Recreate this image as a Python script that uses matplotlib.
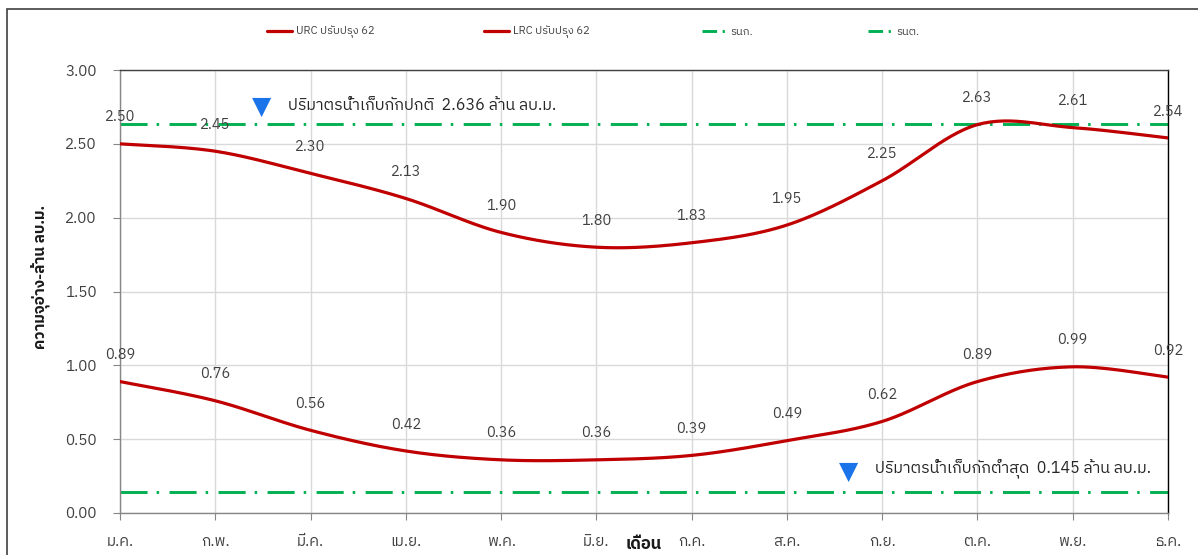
import numpy as np
import matplotlib
matplotlib.use("Agg")
import matplotlib.pyplot as plt
from matplotlib import font_manager
from matplotlib.ft2font import FT2Font
from matplotlib.patches import Rectangle
from matplotlib.lines import Line2D

# ---------------- data ----------------
months = ["ม.ค.", "ก.พ.", "มี.ค.", "เม.ย.", "พ.ค.", "มิ.ย.",
          "ก.ค.", "ส.ค.", "ก.ย.", "ต.ค.", "พ.ย.", "ธ.ค."]
urc = [2.50, 2.45, 2.30, 2.13, 1.90, 1.80, 1.83, 1.95, 2.25, 2.63, 2.61, 2.54]
lrc = [0.89, 0.76, 0.56, 0.42, 0.36, 0.36, 0.39, 0.49, 0.62, 0.89, 0.99, 0.92]
normal_level = 2.636
min_level = 0.145
y_ticks = [0.0, 0.5, 1.0, 1.5, 2.0, 2.5, 3.0]
series_names = ["URC ปรับปรุง 62", "LRC ปรับปรุง 62", "รนก.", "รนต."]
note_normal = "ปริมาตรน้ำเก็บกักปกติ  2.636 ล้าน ลบ.ม."
note_min = "ปริมาตรน้ำเก็บกักต่ำสุด  0.145 ล้าน ลบ.ม."
ylabel = "ความจุอ่าง-ล้าน ลบ.ม."
xlabel = "เดือน"

# ---------------- font with Thai glyphs ----------------
thai = {}
for f in font_manager.fontManager.ttflist:
    try:
        if 0x0E01 in FT2Font(f.fname).get_charmap():
            w = f.weight if isinstance(f.weight, int) else (700 if "bold" in str(f.weight).lower() else 400)
            thai.setdefault(f.name, set()).add(w)
    except Exception:
        pass


def rank(name):
    has_bold = any(w >= 600 for w in thai[name])
    pref = 0
    if "Noto Sans Thai" in name:
        pref = 2
    elif "Sans" in name:
        pref = 1
    return (has_bold, pref, "UI" not in name)


thai_names = sorted(thai, key=rank, reverse=True)
families = thai_names[:1] + ["DejaVu Sans"]
plt.rcParams["font.family"] = families
plt.rcParams["lines.scale_dashes"] = False


def smooth(y, n=30):
    """Excel-like smoothed line (Bezier through points)."""
    y = np.asarray(y, float)
    x = np.arange(len(y), dtype=float)
    P = np.column_stack([x, y])
    Pe = np.vstack([P[0], P, P[-1]])
    out = []
    t = np.linspace(0, 1, n)[:, None]
    for i in range(len(P) - 1):
        p0, p3 = P[i], P[i + 1]
        c1 = p0 + (Pe[i + 2] - Pe[i]) / 6.0
        c2 = p3 - (Pe[i + 3] - Pe[i + 1]) / 6.0
        seg = ((1 - t) ** 3) * p0 + 3 * ((1 - t) ** 2) * t * c1 + 3 * (1 - t) * t ** 2 * c2 + t ** 3 * p3
        out.append(seg if i == 0 else seg[1:])
    S = np.vstack(out)
    return S[:, 0], S[:, 1]


W, H = 1198, 555
fig = plt.figure(figsize=(W / 100, H / 100), dpi=100)
ax = fig.add_axes([120 / W, 1 - 513 / H, (1168 - 120) / W, (513 - 70) / H])

red = "#C00000"
green = "#00B050"
dash = (0, (19.5, 6.5, 1.8, 7.5))

x = np.arange(len(months))
handles = []
for vals, name in [(urc, series_names[0]), (lrc, series_names[1])]:
    sx, sy = smooth(vals)
    h, = ax.plot(sx, sy, color=red, lw=2.3, solid_capstyle="round", label=name, zorder=3)
    handles.append(h)
    for xi, v in zip(x, vals):
        ax.annotate(f"{v:.2f}", (xi, v), xytext=(0, 19), textcoords="offset points",
                    ha="center", va="center", fontsize=10.5, color="#404040",
                    annotation_clip=False, zorder=4)

ax.axhline(normal_level, color=green, lw=2.1, linestyle=dash, zorder=2)
ax.axhline(min_level, color=green, lw=2.1, linestyle=dash, zorder=2)
for name in series_names[2:]:
    handles.append(Line2D([], [], color=green, lw=2.1, linestyle=(0, (10.5, 4, 1.6, 6)), label=name))

# notes
for lvl, xpos, txt, off in [(normal_level, 1.49, note_normal, 12.0), (min_level, 7.65, note_min, 14.5)]:
    ax.annotate("▼", (xpos, lvl), xytext=(0, off), textcoords="offset points",
                ha="center", va="center", fontsize=18, color="#1A73E8",
                family="DejaVu Sans", annotation_clip=False)
    ax.annotate(txt, (xpos, lvl), xytext=(19, off + 1.5), textcoords="offset points",
                ha="left", va="center", fontsize=11.5, color="#262626", annotation_clip=False)

ax.set_xlim(0, len(months) - 1)
ax.set_ylim(0, 3)
ax.set_xticks(x)
ax.set_xticklabels(months)
ax.set_yticks(y_ticks)
ax.set_yticklabels([f"{v:.2f}" for v in y_ticks])
ax.tick_params(axis="both", direction="out", length=5, color="#868686",
               labelsize=11, labelcolor="#404040")
ax.tick_params(axis="x", pad=11)
ax.tick_params(axis="y", pad=12)
ax.grid(True, color="#D9D9D9", lw=1.0, zorder=0)
ax.set_axisbelow(True)
for s in ["left", "bottom"]:
    ax.spines[s].set_color("#868686")
ax.spines["top"].set_color("#404040")
ax.spines["right"].set_color("#000000")
for s in ax.spines.values():
    s.set_linewidth(1.0)

ax.text(5.5, -0.215, xlabel, transform=ax.transData, ha="center", va="center",
        fontsize=12, fontweight="bold", color="#1a1a1a")
fig.text(40 / W, 1 - 277 / H, ylabel, rotation=90, ha="center", va="center",
         fontsize=11, fontweight="bold", color="#1a1a1a")

# legend entries, one per series, placed across the top
leg_x = [265, 482, 700, 866]
for h, px in zip(handles, leg_x):
    fig.legend([h], [h.get_label()], loc="center left",
               bbox_to_anchor=(px / W - 0.006, 1 - 32 / H), frameon=False,
               fontsize=8, handlelength=2.3, handletextpad=0.3,
               labelcolor="#404040", borderpad=0.3)

fig.patches.append(Rectangle((7 / W, -0.1), 1.2, 1 - 9 / H + 0.1, transform=fig.transFigure,
                             fill=False, edgecolor="#404040", lw=1.2))

fig.savefig("out.png", dpi=100)
